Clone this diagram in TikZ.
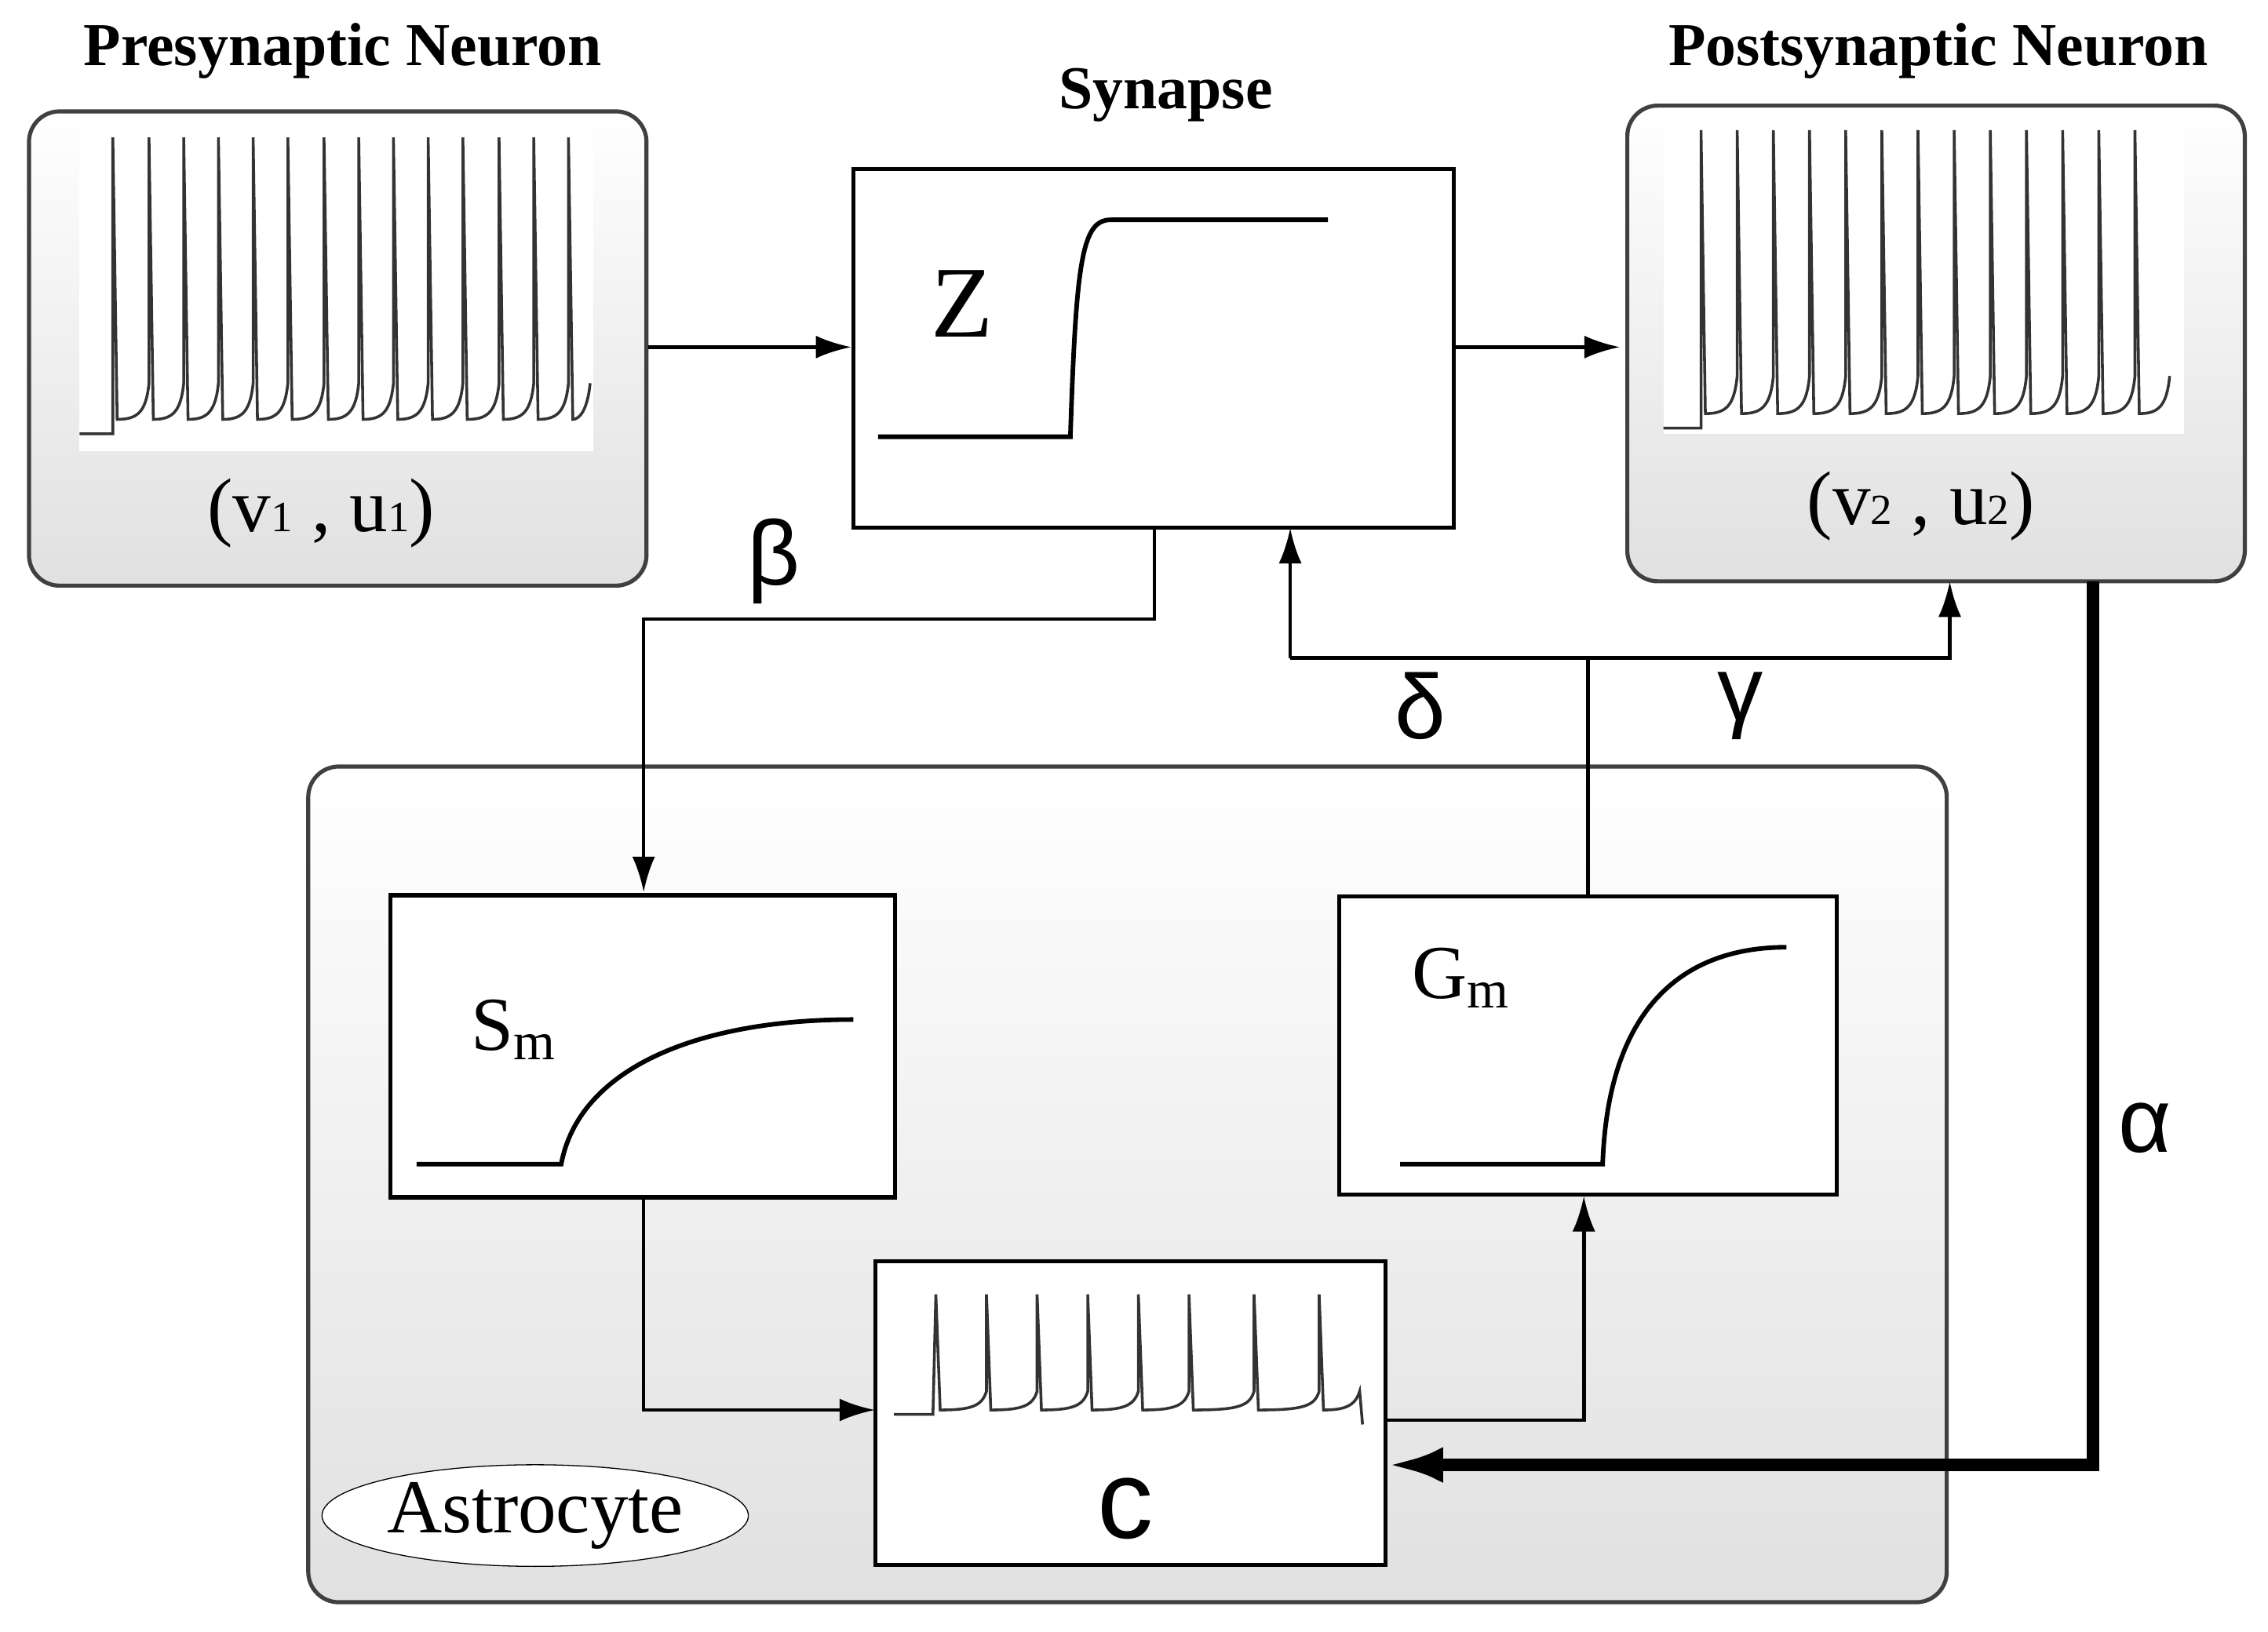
\documentclass[tikz,border=0pt]{standalone}
\usepackage{fontspec}
\setmainfont{Liberation Serif}
\newfontfamily\gsans{Liberation Sans}
\usetikzlibrary{shapes.geometric,arrows.meta}
\begin{document}
\begin{tikzpicture}[x=0.02cm,y=-0.02cm,
  panel/.style={draw=black!75,line width=1.6pt,rounded corners=12pt,top color=white,bottom color=black!12},
  blk/.style={draw=black,line width=1.6pt,fill=white},
  conn/.style={line width=1.4pt,-{Latex[length=14pt,width=9pt]}},
  title/.style={font=\fontsize{24}{28}\selectfont\bfseries},
  glab/.style={font=\gsans\fontsize{36}{40}\selectfont},
  trace/.style={line width=1.1pt,black!80}]
\useasboundingbox (0,0) rectangle (1568,1128);
% presynaptic
\node[title] (pt) at (237,35) {Presynaptic Neuron};
\node[panel,minimum width=8.54cm,minimum height=6.56cm] (pre) at (233.5,241) {};
\node[font=\fontsize{30}{34}\selectfont] (prel) at (222,355) {(v{\fontsize{17}{20}\selectfont 1} , u{\fontsize{17}{20}\selectfont 1})};
\fill[white] (55,93) rectangle (410,312);
\draw[trace] (55,300) -- (78,300)
 foreach \x/\n in {78/103,103/127,127/151,151/175,175/199,199/224,224/248,248/272,272/296,296/320,320/345,345/369,369/393,393/408}{ -- (\x,95) -- (\x+3,290) .. controls (\n-8,290) and (\n-2,285) .. (\n,265)} ;
% postsynaptic
\node[title] (qt) at (1340,35) {Postsynaptic Neuron};
\node[panel,minimum width=8.54cm,minimum height=6.58cm] (post) at (1338.5,237.5) {};
\node[font=\fontsize{30}{34}\selectfont] (postl) at (1328,350) {(v{\fontsize{17}{20}\selectfont 2} , u{\fontsize{17}{20}\selectfont 2})};
\fill[white] (1150,88) rectangle (1510,300);
\draw[trace] (1150,296) -- (1176,296)
 foreach \x/\n in {1176/1201,1201/1226,1226/1251,1251/1276,1276/1301,1301/1326,1326/1351,1351/1376,1376/1401,1401/1426,1426/1451,1451/1476,1476/1500}{ -- (\x,90) -- (\x+3,286) .. controls (\n-8,286) and (\n-2,281) .. (\n,260)} ;
% synapse
\node[title] (st) at (806,66) {Synapse};
\node[blk,minimum width=8.3cm,minimum height=4.96cm] (syn) at (797.5,241) {};
\node[font=\fontsize{40}{44}\selectfont] (z) at (665,210) {Z};
\draw[line width=1.8pt] (607,302) -- (740,302) .. controls (744,180) and (748,152) .. (768,152) -- (918,152);
% astrocyte
\node[panel,minimum width=22.66cm,minimum height=11.56cm] (ast) at (779.5,819) {};
\node[draw,ellipse,fill=white,minimum width=4.7cm,minimum height=1cm,inner sep=1pt,font=\fontsize{30}{34}\selectfont] (astl) at (370,1048) {Astrocyte};
\node[blk,minimum width=6.98cm,minimum height=4.18cm] (sm) at (444.5,723.5) {};
\node[font=\fontsize{30}{34}\selectfont] (sml) at (355,712) {S\textsubscript{m}};
\draw[line width=1.8pt] (288,805) -- (388,805) .. controls (400,740) and (480,705) .. (590,705);
\node[blk,minimum width=6.88cm,minimum height=4.12cm] (gm) at (1098,723) {};
\node[font=\fontsize{30}{34}\selectfont] (gml) at (1010,676) {G\textsubscript{m}};
\draw[line width=1.8pt] (968,805) -- (1108,805) .. controls (1112,690) and (1170,655) .. (1235,655);
\node[blk,minimum width=7.06cm,minimum height=4.2cm] (c) at (781.5,977) {};
\node[font=\gsans\fontsize{44}{48}\selectfont] (cl) at (778,1043) {c};
\draw[trace] (618,978) -- (645,978)
 foreach \x/\n in {647/682,682/717,717/752,752/787,787/822,822/867,867/912,912/940}{ -- (\x,895) -- (\x+3,975) .. controls (\n-10,975) and (\n-3,972) .. (\n,962)} -- (942,985);
% connectors
\coordinate (b1) at (798,428); \coordinate (b2) at (445,428);
\coordinate (j) at (1098,455); \coordinate (d1) at (892,455); \coordinate (g1) at (1348,455);
\coordinate (a1) at (1447,1013);
\coordinate (s1) at (445,975); \coordinate (c1) at (1095,982);
\draw[conn] (pre.east |- 0,240) -- (syn.west |- 0,240);
\draw[conn] (syn.east |- 0,240) -- (1120,240);
\draw[conn] (798,365) -- (b1) -- (b2) -- (445,617);
\draw[line width=1.4pt] (gm.north) -- (j);
\draw[conn] (d1) -- (g1) -- (1348,402);
\draw[conn] (d1) -- (892,365);
\draw[line width=5pt,-{Latex[length=22pt,width=14pt]}] (1447,402) -- (a1) -- (959,1013);
\draw[conn] (445,828) -- (s1) -- (605,975);
\draw[conn] (958,982) -- (c1) -- (1095,827);
\node[glab] (beta) at (535,388) {β};
\node[glab] (delta) at (982,488) {δ};
\node[glab] (gamma) at (1203,488) {γ};
\node[glab] (alpha) at (1483,780) {α};
\end{tikzpicture}
\end{document}
